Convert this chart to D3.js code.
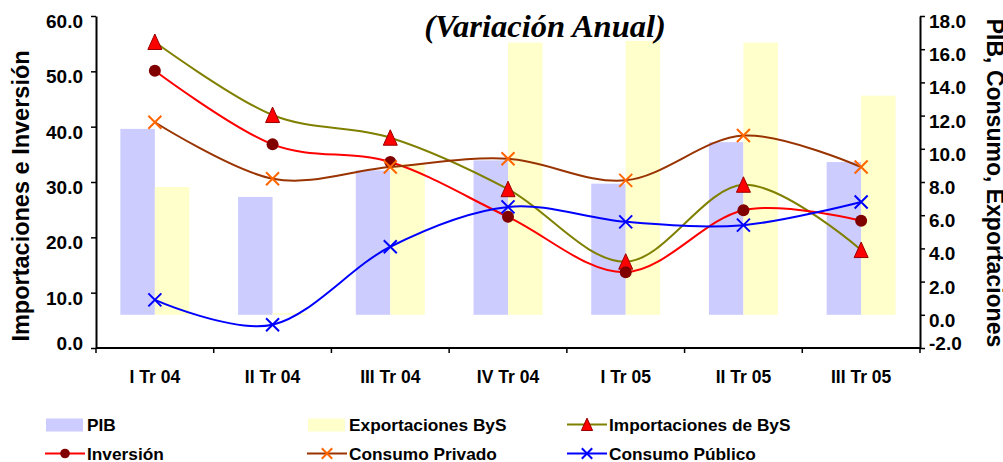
<!DOCTYPE html>
<html>
<head>
<meta charset="utf-8">
<script src="https://cdn.jsdelivr.net/npm/d3@7"></script>
<style>
  body { margin: 0; background: #fff; }
  svg { display: block; }
  text { font-family: "Liberation Sans", Arial, sans-serif; font-weight: bold; fill: #000; }
</style>
</head>
<body>
<script>
// datos
var categorias = ['I Tr 04', 'II Tr 04', 'III Tr 04', 'IV Tr 04', 'I Tr 05', 'II Tr 05', 'III Tr 05'];
var pib = [11.2, 7.1, 8.7, 9.3, 7.9, 10.4, 9.2];
var exportaciones = [7.7, 0.1, 9.1, 16.4, 16.5, 16.4, 13.2];
var importaciones = [55.3, 42.1, 38.0, 28.7, 15.6, 29.5, 17.7];
var inversion = [50.1, 36.8, 33.6, 23.7, 13.7, 24.9, 23.0];
var consumoPrivado = [11.6, 8.2, 8.9, 9.4, 8.1, 10.8, 8.9];
var consumoPublico = [0.9, -0.6, 4.1, 6.5, 5.6, 5.4, 6.8];
var ticksIzq = [0, 10, 20, 30, 40, 50, 60];
var ticksDer = [-2, 0, 2, 4, 6, 8, 10, 12, 14, 16, 18];

var w = 1003, h = 462;
var plotL = 96, plotR = 920, plotT = 16, plotB = 348;

var svg = d3.select('body').append('svg')
  .attr('width', w)
  .attr('height', h);

var x = d3.scaleBand().domain(categorias).range([plotL, plotR]);
var bw = x.bandwidth();
var gw = bw * 0.586;
var sub = d3.scaleBand().domain(['pib', 'exp']).range([(bw - gw) / 2, (bw + gw) / 2]);

var yL = d3.scaleLinear().domain([0, 60]).range([plotB, plotT]);
var yR = d3.scaleLinear().domain([-2, 18]).range([plotB, plotT]);

// barras (eje derecho)
function barras(vals, key, color) {
  svg.append('g').selectAll('rect')
    .data(vals)
    .enter()
    .append('rect')
    .attr('x', (d, i) => x(categorias[i]) + sub(key))
    .attr('width', sub.bandwidth())
    .attr('y', d => Math.min(yR(d), yR(0)))
    .attr('height', d => Math.abs(yR(d) - yR(0)))
    .attr('fill', color);
}
barras(pib, 'pib', '#ccccff');
barras(exportaciones, 'exp', '#ffffcc');

var cx = (d, i) => x(categorias[i]) + bw / 2;

function linea(vals, y, color) {
  var line = d3.line()
    .x(cx)
    .y(d => y(d))
    .curve(d3.curveCardinal.tension(0));
  svg.append('path')
    .datum(vals)
    .attr('d', line)
    .attr('fill', 'none')
    .attr('stroke', color)
    .attr('stroke-width', 2);
}

function triangulo(g, s) {
  g.append('path')
    .attr('d', 'M0,' + (-8 * s) + 'L' + (7 * s) + ',' + (7.5 * s) + 'L' + (-7 * s) + ',' + (7.5 * s) + 'Z')
    .attr('fill', '#ff0000')
    .attr('stroke', '#990000')
    .attr('stroke-width', 1);
}
function circulo(g, s) {
  g.append('circle').attr('r', 6 * s).attr('fill', '#800000');
}
function cruz(color) {
  return function(g, s) {
    var r = 6.5 * s;
    g.append('path')
      .attr('d', 'M' + -r + ',' + -r + 'L' + r + ',' + r + 'M' + -r + ',' + r + 'L' + r + ',' + -r)
      .attr('stroke', color)
      .attr('stroke-width', 2)
      .attr('fill', 'none');
  };
}

function marcadores(vals, y, fn) {
  vals.forEach(function(d, i) {
    var g = svg.append('g').attr('transform', 'translate(' + cx(d, i) + ',' + y(d) + ')');
    fn(g, 1);
  });
}

linea(importaciones, yL, '#808000');
marcadores(importaciones, yL, triangulo);
linea(inversion, yL, '#ff0000');
marcadores(inversion, yL, circulo);
linea(consumoPrivado, yR, '#993300');
marcadores(consumoPrivado, yR, cruz('#ff6600'));
linea(consumoPublico, yR, '#0000ff');
marcadores(consumoPublico, yR, cruz('#0000ff'));

// ejes
var fmt = d => d.toFixed(1);
var axisL = d3.axisLeft(yL)
  .tickValues(ticksIzq)
  .tickFormat(fmt)
  .tickSize(5)
  .tickSizeOuter(0)
  .tickPadding(8);
var gL = svg.append('g')
  .attr('transform', 'translate(' + plotL + ',0)')
  .call(axisL);

var axisR = d3.axisRight(yR)
  .tickValues(ticksDer)
  .tickFormat(fmt)
  .tickSize(5)
  .tickSizeOuter(0)
  .tickPadding(4);
var gR = svg.append('g')
  .attr('transform', 'translate(' + plotR + ',0)')
  .call(axisR);

[gL, gR].forEach(function(g) {
  g.select('.domain').attr('stroke-width', 2);
  g.selectAll('.tick line').attr('stroke-width', 1.5);
  g.selectAll('.tick text')
    .style('font-size', '19px')
    .attr('y', (d, i) => i === 0 ? -5 : 5.5);
});

// eje x
svg.append('line')
  .attr('x1', plotL).attr('x2', plotR)
  .attr('y1', plotB).attr('y2', plotB)
  .attr('stroke', '#000')
  .attr('stroke-width', 2);
svg.append('g').selectAll('line')
  .data(categorias.concat(['fin']))
  .enter()
  .append('line')
  .attr('x1', (d, i) => i < categorias.length ? x(d) : plotR)
  .attr('x2', (d, i) => i < categorias.length ? x(d) : plotR)
  .attr('y1', plotB)
  .attr('y2', plotB + 5)
  .attr('stroke', '#000')
  .attr('stroke-width', 1.5);
svg.append('g').selectAll('text')
  .data(categorias)
  .enter()
  .append('text')
  .attr('x', d => x(d) + bw / 2)
  .attr('y', 383)
  .attr('text-anchor', 'middle')
  .style('font-size', '17.5px')
  .text(d => d);

// titulos
svg.append('text')
  .attr('x', 545)
  .attr('y', 37)
  .attr('text-anchor', 'middle')
  .style('font-family', '"Liberation Serif", "Times New Roman", serif')
  .style('font-style', 'italic')
  .style('font-size', '32.5px')
  .text('(Variación Anual)');

svg.append('text')
  .attr('transform', 'translate(29,' + ((plotT + plotB) / 2 + 14) + ') rotate(-90)')
  .attr('text-anchor', 'middle')
  .style('font-size', '23.5px')
  .text('Importaciones e Inversión');

svg.append('text')
  .attr('transform', 'translate(987,' + ((plotT + plotB) / 2 + 1) + ') rotate(90)')
  .attr('text-anchor', 'middle')
  .style('font-size', '23px')
  .text('PIB, Consumo, Exportaciones');

// leyenda
var leyenda = [
  { nombre: 'PIB', tipo: 'barra', color: '#ccccff', col: 0, fila: 0 },
  { nombre: 'Exportaciones ByS', tipo: 'barra', color: '#ffffcc', col: 1, fila: 0 },
  { nombre: 'Importaciones de ByS', tipo: 'linea', color: '#808000', marca: triangulo, col: 2, fila: 0 },
  { nombre: 'Inversión', tipo: 'linea', color: '#ff0000', marca: circulo, col: 0, fila: 1 },
  { nombre: 'Consumo Privado', tipo: 'linea', color: '#993300', marca: cruz('#ff6600'), col: 1, fila: 1 },
  { nombre: 'Consumo Público', tipo: 'linea', color: '#0000ff', marca: cruz('#0000ff'), col: 2, fila: 1 }
];
var colX = [45, 307, 567];
var filaY = [424.5, 453.5];

leyenda.forEach(function(it) {
  var g = svg.append('g')
    .attr('transform', 'translate(' + colX[it.col] + ',' + filaY[it.fila] + ')');
  if (it.tipo === 'barra') {
    g.append('rect')
      .attr('x', 1).attr('y', -6)
      .attr('width', 37).attr('height', 13)
      .attr('fill', it.color);
  } else {
    g.append('line')
      .attr('x1', 0).attr('x2', 40)
      .attr('y1', 0).attr('y2', 0)
      .attr('stroke', it.color)
      .attr('stroke-width', 2);
    var m = g.append('g').attr('transform', 'translate(20,0)');
    it.marca(m, 0.8);
  }
  g.append('text')
    .attr('x', 42)
    .attr('y', 6)
    .style('font-size', '17.3px')
    .text(it.nombre);
});
</script>
</body>
</html>
